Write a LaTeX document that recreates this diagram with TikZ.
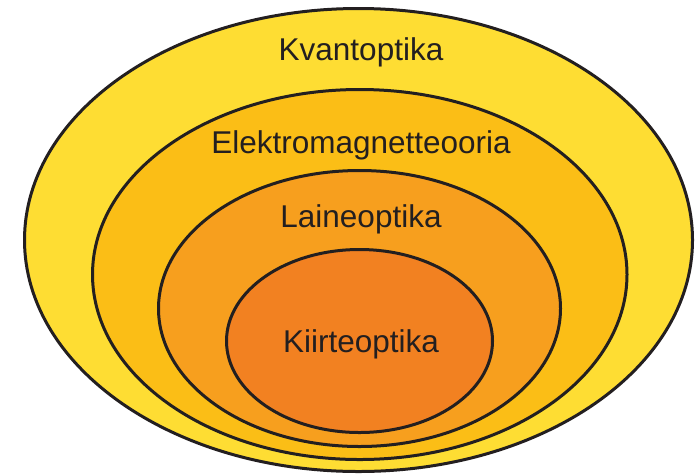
\documentclass[tikz,border=0pt]{standalone}
\usepackage{fontspec}
\setmainfont{Liberation Sans}
\usetikzlibrary{shapes.geometric}
\definecolor{cA}{HTML}{FEDD33}
\definecolor{cB}{HTML}{FBBE16}
\definecolor{cC}{HTML}{F79F1E}
\definecolor{cD}{HTML}{F28121}
\definecolor{ln}{HTML}{231F20}
\tikzset{
  ring/.style={ellipse, draw=ln, line width=3pt, inner sep=0pt, outer sep=0pt},
  lbl/.style={anchor=base, inner sep=0pt, text=ln, font=\fontsize{31.5}{36}\selectfont}
}
\begin{document}
\begin{tikzpicture}[x=1pt,y=-1pt]
\useasboundingbox (0,0) rectangle (695,475);
\node[ring, fill=cA, minimum width=668pt, minimum height=463pt] (q) at (358.5,240) {};
\node[ring, fill=cB, minimum width=534.5pt, minimum height=370pt] (e) at (359.75,274.5) {};
\node[ring, fill=cC, minimum width=402pt, minimum height=276pt] (l) at (359.5,308.5) {};
\node[ring, fill=cD, minimum width=266pt, minimum height=183pt] (k) at (359.5,341) {};
\node[lbl] (tq) at (361,60) {Kvantoptika};
\node[lbl] (te) at (361,153) {Elektromagnetteooria};
\node[lbl] (tl) at (361,227) {Laineoptika};
\node[lbl] (tk) at (361,352) {Kiirteoptika};
\end{tikzpicture}
\end{document}
